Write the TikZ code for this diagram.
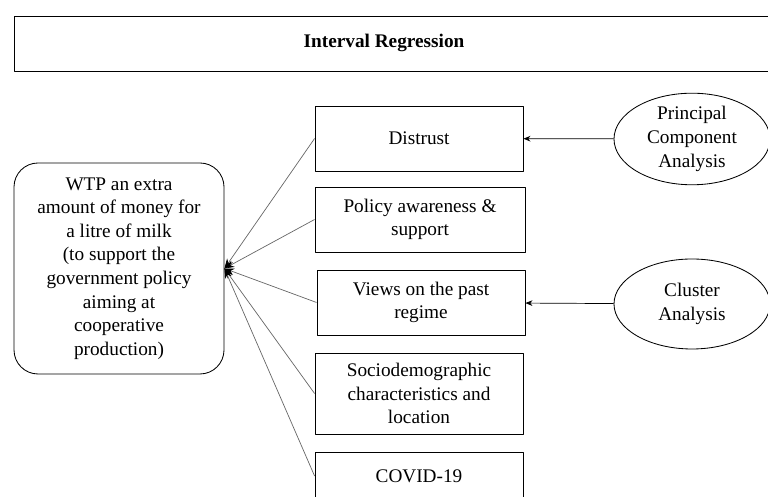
\documentclass[tikz,border=0pt]{standalone}
\usepackage{fontspec}
\setmainfont{Liberation Serif}
\usetikzlibrary{arrows.meta,shapes.geometric}
\tikzset{
  factor/.style={draw,line width=0.6pt,minimum width=5.2cm,minimum height=1.625cm,align=center,inner sep=2pt},
  outcome/.style={draw,line width=0.6pt,rounded corners=0.6cm,minimum width=5.25cm,minimum height=5.275cm,align=center},
  method/.style={draw,ellipse,line width=0.6pt,minimum width=3.9cm,minimum height=2.25cm,align=center,inner sep=0pt},
  link/.style={->,draw=black!60,line width=0.5pt},
  feed/.style={-{Stealth[black,length=5pt,width=4pt]},line width=0.5pt},
}
\begin{document}
\begin{tikzpicture}[>={Stealth[black,length=7pt,width=5pt]},line join=round,font=\fontsize{13.7}{16.8}\selectfont]
\useasboundingbox (0,0) rectangle (19.2,12.425);
\clip (0,0) rectangle (19.2,12.425);
% header
\draw[line width=0.6pt] (0.35,10.65) rectangle (19.6,12.025);
\node[font=\fontsize{13.7}{16.8}\selectfont\bfseries] (reg) at (9.6,11.34) {Interval Regression};
% dependent variable
\node[outcome] (wtp) at (2.975,5.7125) {WTP an extra\\amount of money for\\a litre of milk\\(to support the\\government policy\\aiming at\\cooperative\\production)};
% explanatory blocks
\node[factor] (distrust) at (10.475,8.9625) {Distrust};
\node[factor,minimum width=5.25cm] (policy) at (10.5,6.9375) {Policy awareness \&\\support};
\node[factor] (views) at (10.525,4.8625) {Views on the past\\regime};
\node[factor,minimum height=2.025cm] (socio) at (10.475,2.5875) {Sociodemographic\\characteristics and\\location};
\node[factor,minimum height=1.2cm] (covid) at (10.475,0.525) {COVID-19};
% methods
\node[method] (pca) at (17.3,8.95) {Principal\\Component\\Analysis};
\node[method] (cluster) at (17.3,4.825) {Cluster\\Analysis};
\draw[feed] (pca) -- (distrust);
\draw[feed] (cluster) -- (views);
\foreach \b in {distrust,policy,views,socio,covid}
  \draw[link] (\b.west) -- (wtp.east);
\end{tikzpicture}
\end{document}
